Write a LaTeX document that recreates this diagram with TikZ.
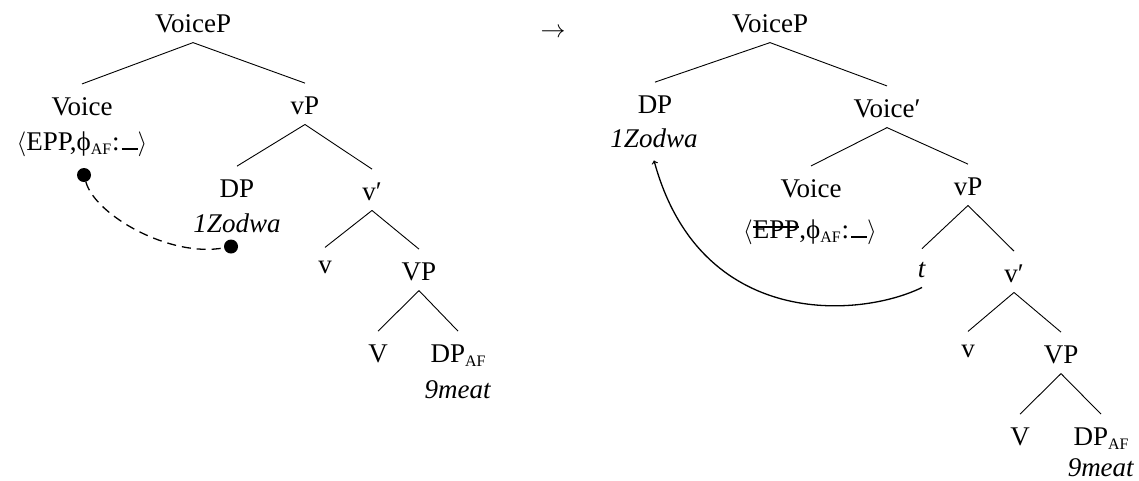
\documentclass[tikz,border=0pt]{standalone}
\usepackage{fontspec}
\setmainfont{Liberation Serif}
\usetikzlibrary{calc}
\newcommand\fsz{\fontsize{27}{32}\selectfont}
\newcommand\afsub{\raisebox{-4pt}{\fontsize{16}{18}\selectfont AF}}
\newcommand\blankln{\rule{16pt}{1.8pt}}
\newcommand\strk[1]{\setbox0=\hbox{#1}\rlap{\rule[10.5pt]{\wd0}{1.8pt}}\box0}
\newcommand\featL{$\langle$EPP,ϕ\afsub\kern1pt:\kern2pt\blankln$\rangle$}
\newcommand\featR{$\langle$\strk{EPP},ϕ\afsub\kern1pt:\kern2pt\blankln$\rangle$}
\tikzset{
  lab/.style={font=\fsz, inner sep=0pt, anchor=base},
  edge/.style={line width=0.9pt,
    to path={([yshift=-10pt]\tikztostart.south) -- ([yshift=13pt]\tikztotarget.north)}},
  dotnode/.style={circle, fill=black, inner sep=0pt, minimum size=14pt},
  link/.style={line width=1.3pt, dash pattern=on 9pt off 6pt},
  move/.style={line width=1.3pt, ->},
}
\begin{document}
\begin{tikzpicture}[x=1pt,y=1pt]
\useasboundingbox (0,0) rectangle (1139,-480);
% left tree
\node[lab] (VoicePL) at (193,-32) {VoiceP};
\node[lab] (VoiceL) at (82,-115) {Voice};
\node[lab] (featL) at (82,-150) {\featL};
\node[lab] (vPL) at (305,-114) {vP};
\node[lab] (DPL) at (237,-197) {DP};
\node[lab] (zodL) at (237,-232) {\textit{1Zodwa}};
\node[lab] (vbarL) at (372,-200) {v′};
\node[lab] (vL) at (325,-273) {v};
\node[lab] (VPL) at (419,-280) {VP};
\node[lab] (VL) at (378,-362) {V};
\node[lab] (DPafL) at (458,-362) {DP\afsub};
\node[lab] (meatL) at (458,-398) {\textit{9meat}};
\draw[edge] (VoicePL) to (VoiceL);
\draw[edge] (VoicePL) to (vPL);
\draw[edge] (vPL) to (DPL);
\draw[edge] (vPL) to (vbarL);
\draw[edge] (vbarL) to (vL);
\draw[edge] (vbarL) to (VPL);
\draw[edge] (VPL) to (VL);
\draw[edge] (VPL) to (DPafL);
\node[dotnode] (dotA) at (84,-175) {};
\node[dotnode] (dotB) at (231,-246.5) {};
\draw[link] (dotA) .. controls (95,-215) and (170,-258) .. (dotB);
% arrow between
\node[font=\fsz, inner sep=0pt] (arr) at (553,-33) {$\rightarrow$};
% right tree
\node[lab] (VoicePR) at (770,-32) {VoiceP};
\node[lab] (DPR) at (655,-113) {DP};
\node[lab] (zodR) at (654,-147) {\textit{1Zodwa}};
\node[lab] (VbarR) at (887,-117) {Voice′};
\node[lab] (VoiceR) at (811,-197) {Voice};
\node[lab] (featR) at (810,-238) {\featR};
\node[lab] (vPR) at (968,-195) {vP};
\node[lab] (tR) at (922,-277) {\textit{t}};
\node[lab] (vbarR) at (1014,-282) {v′};
\node[lab] (vR) at (968,-357) {v};
\node[lab] (VPR) at (1061,-363) {VP};
\node[lab] (VR) at (1020,-445) {V};
\node[lab] (DPafR) at (1101,-445) {DP\afsub};
\node[lab] (meatR) at (1101,-476) {\textit{9meat}};
\draw[edge] (VoicePR) to (DPR);
\draw[edge] (VoicePR) to (VbarR);
\draw[edge] (VbarR) to (VoiceR);
\draw[edge] (VbarR) to (vPR);
\draw[edge] (vPR) to (tR);
\draw[edge] (vPR) to (vbarR);
\draw[edge] (vbarR) to (vR);
\draw[edge] (vbarR) to (VPR);
\draw[edge] (VPR) to (VR);
\draw[edge] (VPR) to (DPafR);
\draw[move] ([yshift=-10pt]tR.south) .. controls (860,-318) and (700,-330) .. ([yshift=-13pt]zodR.south);
\end{tikzpicture}
\end{document}
